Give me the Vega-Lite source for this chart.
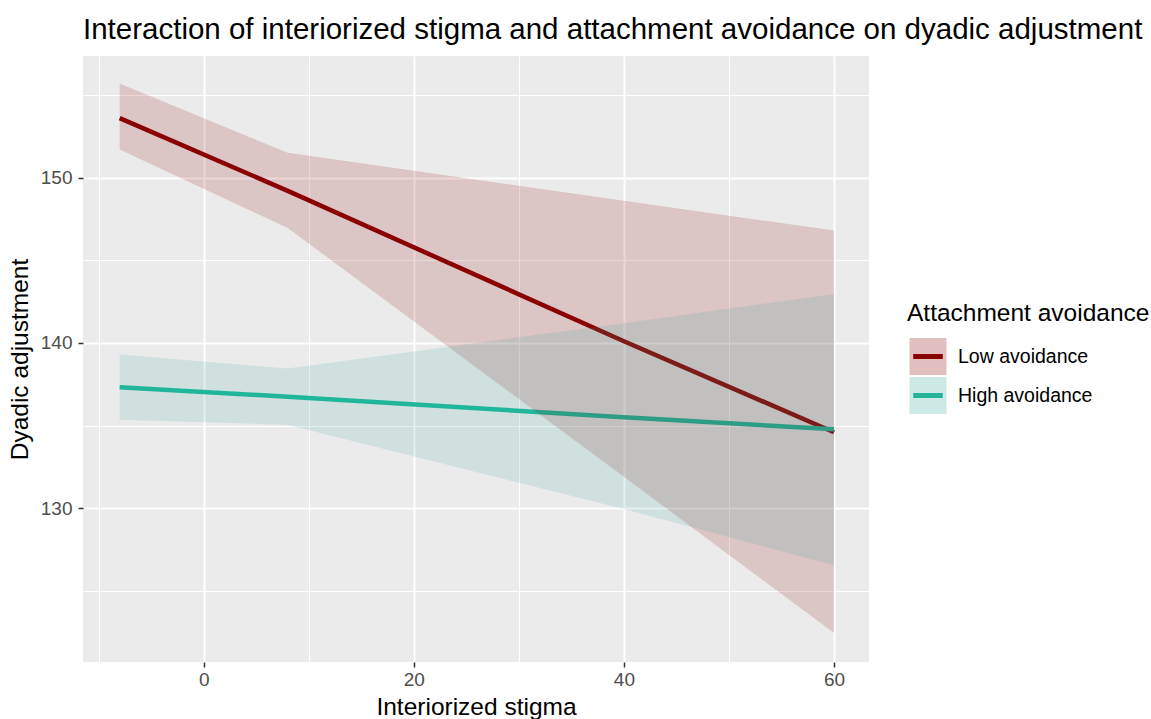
{
  "$schema": "https://vega.github.io/schema/vega-lite/v6.json",
  "width": 786,
  "height": 606,
  "autosize": {"type": "none"},
  "padding": {"left": 83, "top": 56, "right": 282, "bottom": 57},
  "background": "white",
  "view": {"fill": "#EBEBEB", "stroke": null},
  "title": {
    "text": "Interaction of interiorized stigma and attachment avoidance on dyadic adjustment",
    "anchor": "start",
    "frame": "group",
    "font": "Liberation Sans",
    "fontSize": 29.5,
    "fontWeight": "normal",
    "color": "black",
    "offset": 11
  },
  "data": {
    "values": [
      {"group": "Low avoidance", "x": -8, "fit": 153.6, "lo": 151.7, "hi": 155.7},
      {"group": "Low avoidance", "x": 8, "fit": 149.2, "lo": 146.95, "hi": 151.5},
      {"group": "Low avoidance", "x": 40, "fit": 140.1, "lo": 131.9, "hi": 148.6},
      {"group": "Low avoidance", "x": 60, "fit": 134.6, "lo": 122.45, "hi": 146.8},
      {"group": "High avoidance", "x": -8, "fit": 137.32, "lo": 135.35, "hi": 139.3},
      {"group": "High avoidance", "x": 8, "fit": 136.75, "lo": 135.05, "hi": 138.45},
      {"group": "High avoidance", "x": 40, "fit": 135.5, "lo": 129.95, "hi": 141.2},
      {"group": "High avoidance", "x": 60, "fit": 134.78, "lo": 126.55, "hi": 142.95}
    ]
  },
  "layer": [
    {
      "mark": {"type": "line", "strokeWidth": 4.5},
      "encoding": {
        "x": {
          "field": "x", "type": "quantitative",
          "scale": {"domain": [-11.49, 63.33], "nice": false, "zero": false},
          "axis": {
            "orient": "bottom",
            "title": "Interiorized stigma",
            "values": [0, 20, 40, 60],
            "grid": true, "gridColor": "white", "gridWidth": 2,
            "domain": false,
            "ticks": true, "tickColor": "#333333", "tickSize": 5, "tickWidth": 1.5,
            "labelFont": "Liberation Sans", "labelFontSize": 19, "labelColor": "#4D4D4D", "labelPadding": 3,
            "titleFont": "Liberation Sans", "titleFontSize": 24.5, "titleFontWeight": "normal", "titleColor": "black", "titlePadding": 6
          }
        },
        "y": {
          "field": "fit", "type": "quantitative",
          "scale": {"domain": [120.7, 157.36], "nice": false, "zero": false},
          "axis": {
            "orient": "left",
            "title": "Dyadic adjustment",
            "values": [130, 140, 150],
            "grid": true, "gridColor": "white", "gridWidth": 2,
            "domain": false,
            "ticks": true, "tickColor": "#333333", "tickSize": 5, "tickWidth": 1.5,
            "labelFont": "Liberation Sans", "labelFontSize": 19, "labelColor": "#4D4D4D", "labelPadding": 6,
            "titleFont": "Liberation Sans", "titleFontSize": 24.5, "titleFontWeight": "normal", "titleColor": "black", "titlePadding": 8
          }
        },
        "color": {
          "field": "group", "type": "nominal",
          "sort": ["Low avoidance", "High avoidance"],
          "scale": {"range": ["#8B0000", "#1BB99A"]},
          "legend": {
            "orient": "none", "legendX": 824, "legendY": 246,
            "title": "Attachment avoidance", "titleLimit": 400, "labelLimit": 300,
            "titleFont": "Liberation Sans", "titleFontSize": 24.5, "titleFontWeight": "normal", "titleColor": "black", "titlePadding": 11,
            "labelFont": "Liberation Sans", "labelFontSize": 19.5, "labelColor": "black", "labelOffset": 9,
            "symbolType": "M-0.8,0H0.8", "symbolSize": 1369, "symbolStrokeWidth": 5,
            "clipHeight": 38, "rowPadding": 1
          }
        }
      }
    },
    {
      "mark": {"type": "area", "opacity": 0.16},
      "encoding": {
        "x": {
          "field": "x", "type": "quantitative",
          "axis": {
            "orient": "bottom", "title": null, "values": [-10, 10, 30, 50],
            "grid": true, "gridColor": "white", "gridWidth": 1,
            "domain": false, "ticks": false, "labels": false
          }
        },
        "y": {
          "field": "lo", "type": "quantitative",
          "axis": {
            "orient": "left", "title": null, "values": [125, 135, 145, 155],
            "grid": true, "gridColor": "white", "gridWidth": 1,
            "domain": false, "ticks": false, "labels": false
          }
        },
        "y2": {"field": "hi"},
        "fill": {
          "field": "group", "type": "nominal",
          "scale": {"domain": ["Low avoidance", "High avoidance"], "range": ["#8B0000", "#3FAA9C"]},
          "legend": {
            "orient": "none", "legendX": 824, "legendY": 246,
            "title": "Attachment avoidance", "titleLimit": 400, "labelLimit": 300,
            "titleFont": "Liberation Sans", "titleFontSize": 24.5, "titleFontWeight": "normal", "titleOpacity": 0, "titlePadding": 11,
            "labelFont": "Liberation Sans", "labelFontSize": 19.5, "labelOpacity": 0, "labelOffset": 9,
            "symbolType": "square", "symbolSize": 1369, "symbolStrokeWidth": 5, "symbolStrokeColor": "transparent", "symbolOpacity": 0.25,
            "clipHeight": 38, "rowPadding": 1
          }
        }
      }
    }
  ],
  "resolve": {"axis": {"x": "independent", "y": "independent"}}
}
